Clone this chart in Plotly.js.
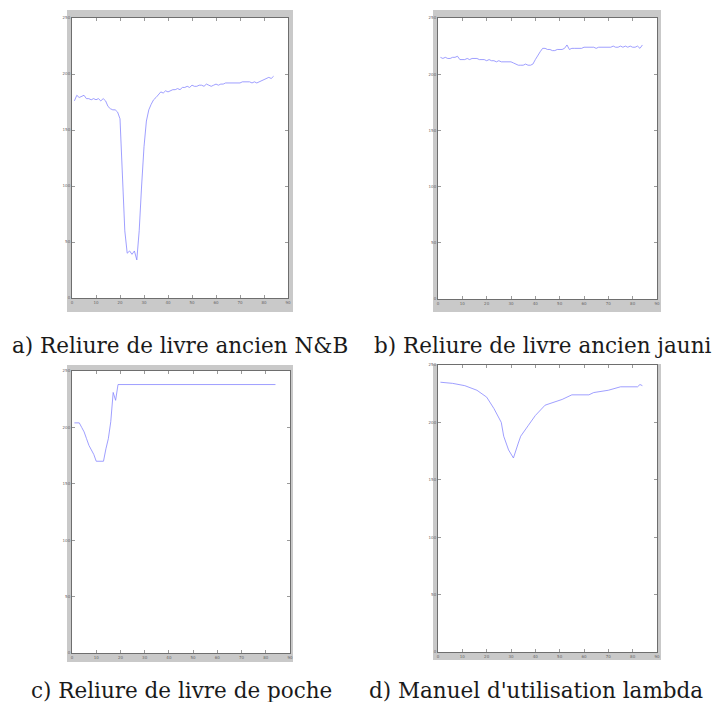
<!DOCTYPE html>
<html>
<head>
<meta charset="utf-8">
<script src="https://cdn.plot.ly/plotly-3.0.1.min.js"></script>
<style>html,body{margin:0;padding:0;background:#fff;}#chart{width:717px;height:702px;}</style>
</head>
<body>
<div id="chart"></div>
<script>
// ---- Data ----
const xTicks = [0, 10, 20, 30, 40, 50, 60, 70, 80, 90];
const yTicks = [0, 50, 100, 150, 200, 250];

const captions = [
  "a) Reliure de livre ancien N&B",
  "b) Reliure de livre ancien jauni",
  "c) Reliure de livre de poche",
  "d) Manuel d'utilisation lambda"
];

const xA = [1,2,3,4,5,6,7,8,9,10,11,12,13,14,15,16,17,18,19,20,21,22,23,24,25,26,27,28,29,30,31,32,33,34,35,36,37,38,39,40,41,42,43,44,45,46,47,48,49,50,51,52,53,54,55,56,57,58,59,60,61,62,63,64,65,66,67,68,69,70,71,72,73,74,75,76,77,78,79,80,81,82,83,84];
const yA = [176,181,179,180,181,178,178,177,178,177,178,176,178,176,171,169,168,168,166,160,110,60,40,42,39,42,34,60,100,135,158,168,173,177,179,182,184,183,185,184,185,186,186,187,186,188,188,189,188,190,189,189,190,190,189,191,190,189,190,191,190,191,191,192,192,192,192,192,192,192,193,193,193,193,192,193,192,193,194,195,196,197,196,198];

const xB = [1,2,3,4,5,6,7,8,9,10,11,12,13,14,15,16,17,18,19,20,21,22,23,24,25,26,27,28,29,30,31,32,33,34,35,36,37,38,39,40,41,42,43,44,45,46,47,48,49,50,51,52,53,54,55,56,57,58,59,60,61,62,63,64,65,66,67,68,69,70,71,72,73,74,75,76,77,78,79,80,81,82,83,84];
const yB = [215,214,215,214,214,215,215,216,213,213,213,214,213,214,214,214,213,213,213,212,213,212,212,211,212,211,211,211,211,211,210,209,208,208,208,209,208,208,209,213,217,220,223,223,222,222,221,221,222,222,222,223,226,222,223,223,223,223,223,224,224,224,224,224,223,224,224,224,224,224,224,225,224,224,225,224,225,224,225,224,224,225,223,226];

const xC = [1,2,3,4,5,6,7,8,9,10,11,12,13,14,15,16,17,18,19,84];
const yC = [204,204,204,200,196,190,184,180,176,170,170,170,170,181,190,205,231,224,238,238];

const xD = [1,6,11,16,20,23,26,27,29,30,31,33,34,37,40,44,51,55,62,64,70,75,82,83,84];
const yD = [235,234,232,228,222,212,200,188,176,172,169,182,188,197,206,215,220,224,224,226,228,231,231,233,232];

const series = [[xA,yA],[xB,yB],[xC,yC],[xD,yD]];

// ---- Layout geometry (pixels) ----
const W = 717, H = 702;
const axesPx = [
  [72, 288, 18, 298],
  [438, 657, 18, 299],
  [72, 290, 371, 653],
  [438, 657, 365, 652]
];
const framePx = [
  [67, 293, 10, 312],
  [433, 661, 10, 312],
  [67, 293, 365, 662],
  [433, 661, 364, 660]
];
const capPos = [[180, 345], [543, 345], [181, 690], [536, 690]];

const px = v => v / W;
const py = v => 1 - v / H;

const traces = [];
const layout = {
  width: W, height: H,
  margin: {l: 0, r: 0, t: 0, b: 0},
  paper_bgcolor: '#ffffff',
  plot_bgcolor: '#ffffff',
  showlegend: false,
  shapes: [],
  annotations: []
};

series.forEach((s, i) => {
  const n = i === 0 ? '' : String(i + 1);
  traces.push({
    x: s[0], y: s[1], type: 'scatter', mode: 'lines',
    xaxis: 'x' + n, yaxis: 'y' + n,
    line: {color: 'rgb(135,135,255)', width: 0.8},
    hoverinfo: 'skip'
  });
  const a = axesPx[i], f = framePx[i];
  const axCommon = {
    showgrid: false, zeroline: false,
    showline: true, linecolor: '#6e6e6e', linewidth: 1, mirror: 'allticks',
    ticks: 'inside', ticklen: 3, tickwidth: 1, tickcolor: '#9a9a9a',
    tickfont: {size: 4, color: '#666666', family: 'DejaVu Sans'},
    fixedrange: true
  };
  layout['xaxis' + n] = Object.assign({}, axCommon, {
    domain: [px(a[0]), px(a[1])], range: [0, 90],
    tickmode: 'array', tickvals: xTicks, ticktext: xTicks.map(String),
    anchor: 'y' + n
  });
  layout['yaxis' + n] = Object.assign({}, axCommon, {
    domain: [py(a[3]), py(a[2])], range: [0, 250],
    tickmode: 'array', tickvals: yTicks, ticktext: yTicks.map(String),
    anchor: 'x' + n
  });
  layout.shapes.push({
    type: 'rect', xref: 'paper', yref: 'paper', layer: 'below',
    x0: px(f[0]), x1: px(f[1]), y0: py(f[3]), y1: py(f[2]),
    fillcolor: '#c9c9c9', line: {width: 0}
  });
  layout.shapes.push({
    type: 'rect', xref: 'paper', yref: 'paper', layer: 'below',
    x0: px(a[0]), x1: px(a[1]), y0: py(a[3]), y1: py(a[2]),
    fillcolor: '#ffffff', line: {width: 0}
  });
  layout.annotations.push({
    text: captions[i], xref: 'paper', yref: 'paper',
    x: px(capPos[i][0]), y: py(capPos[i][1]),
    xanchor: 'center', yanchor: 'middle', showarrow: false,
    font: {family: 'DejaVu Serif', size: 21.5, color: '#1a1a1a'}
  });
});

Plotly.newPlot('chart', traces, layout, {staticPlot: true, displayModeBar: false});
</script>
</body>
</html>
